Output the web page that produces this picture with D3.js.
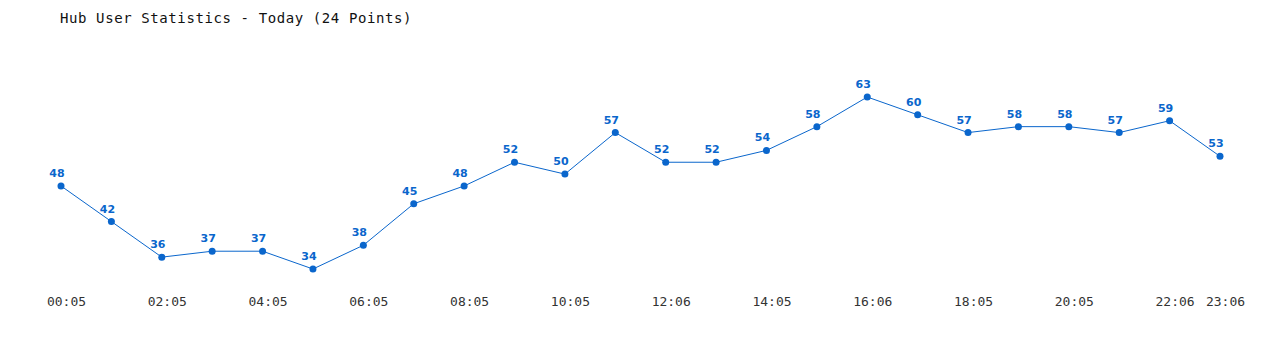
<!DOCTYPE html>
<html>
<head>
<meta charset="utf-8">
<script src="https://cdn.jsdelivr.net/npm/d3@7"></script>
<style>
  body { margin: 0; background: #fff; }
  text { font-family: "DejaVu Sans Mono", "Liberation Mono", monospace; }
</style>
</head>
<body>
<div id="chart"></div>
<script>
// hub users, one reading per hour
const times = ['00:05', '01:05', '02:05', '03:05', '04:05', '05:05', '06:05', '07:05',
  '08:05', '09:05', '10:05', '11:05', '12:06', '13:06', '14:05', '15:05',
  '16:06', '17:05', '18:05', '19:05', '20:05', '21:05', '22:06', '23:06'];
const users = [48, 42, 36, 37, 37, 34, 38, 45, 48, 52, 50, 57, 52, 52, 54, 58,
  63, 60, 57, 58, 58, 57, 59, 53];
const title = 'Hub User Statistics - Today (24 Points)';

const width = 1280, height = 350, blue = '#0a66cc';

const svg = d3.select('#chart').append('svg')
  .attr('width', width)
  .attr('height', height);

const x = d3.scalePoint()
  .domain(times)
  .range([61, 1220]);

const y = d3.scaleLinear()
  .domain([34, 63])
  .range([269, 97]);

svg.append('text')
  .attr('x', 60).attr('y', 23)
  .style('font-size', '14px')
  .style('letter-spacing', '0.6px')
  .style('fill', '#111')
  .text(title);

// x labels: every other point, plus the last one
const shown = times.filter((t, i) => i % 2 === 0 || i === times.length - 1);
const axis = d3.axisBottom(x).tickValues(shown).tickSize(0).tickPadding(0);
const g = svg.append('g').attr('transform', 'translate(5,297)').call(axis);
g.select('.domain').remove();
g.selectAll('text')
  .style('font-size', '13px')
  .style('font-family', '"DejaVu Sans Mono", monospace')
  .style('fill', '#333');

const line = d3.line()
  .x((d, i) => x(times[i]))
  .y(d => y(d));

svg.append('path')
  .datum(users)
  .attr('d', line)
  .attr('fill', 'none')
  .attr('stroke', blue)
  .attr('stroke-width', 1);

svg.selectAll('circle.pt')
  .data(users)
  .enter()
  .append('circle')
  .attr('class', 'pt')
  .attr('cx', (d, i) => x(times[i]))
  .attr('cy', d => y(d))
  .attr('r', 3.5)
  .attr('fill', blue);

svg.selectAll('text.val')
  .data(users)
  .enter()
  .append('text')
  .attr('class', 'val')
  .attr('x', (d, i) => x(times[i]) - 4)
  .attr('y', d => y(d) - 9)
  .attr('text-anchor', 'middle')
  .style('font-size', '11px')
  .style('font-weight', 'bold')
  .style('font-family', '"DejaVu Sans", sans-serif')
  .style('fill', blue)
  .text(d => d);
</script>
</body>
</html>
